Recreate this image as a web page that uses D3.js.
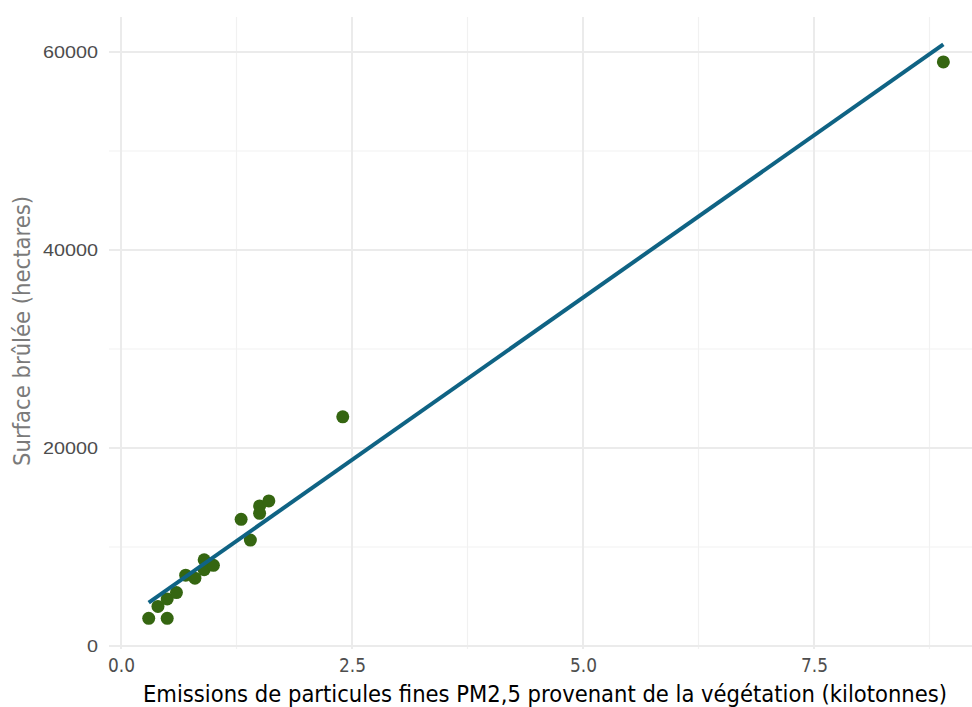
<!DOCTYPE html>
<html>
<head>
<meta charset="utf-8">
<script src="https://cdn.jsdelivr.net/npm/d3@7"></script>
<style>
  body { margin: 0; background: #fff; }
  svg { display: block; }
</style>
</head>
<body>
<svg id="chart" width="972" height="707"></svg>
<script>
// emissions PM2,5 (kilotonnes) vs surface brulee (hectares)
var emissions = [0.3, 0.5, 0.4, 0.5, 0.6, 0.7, 0.8, 0.9, 0.9, 1.0, 1.3, 1.4, 1.5, 1.5, 1.6, 2.4, 8.9];
var surface = [2800, 2800, 4000, 4750, 5400, 7150, 6850, 8700, 7700, 8150, 12800, 10700, 14150, 13400, 14650, 23150, 59000];
var xTicks = [0, 2.5, 5, 7.5];
var xMinor = [1.25, 3.75, 6.25, 8.75];
var yTicks = [0, 20000, 40000, 60000];
var yMinor = [10000, 30000, 50000];

var svg = d3.select('#chart');
var panel = { left: 109, right: 972, top: 17, bottom: 649 };

var xScale = d3.scaleLinear().domain([0, 7.5]).range([121, 814]);
var yScale = d3.scaleLinear().domain([0, 60000]).range([646, 52]);

var gridGroup = svg.append('g');
// minor grid first, then major on top
gridGroup.selectAll('.vminor').data(xMinor).enter().append('line')
  .attr('x1', function(d) { return xScale(d); })
  .attr('x2', function(d) { return xScale(d); })
  .attr('y1', panel.top).attr('y2', panel.bottom)
  .attr('stroke', '#f1f1f1').attr('stroke-width', 1.2);
gridGroup.selectAll('.hminor').data(yMinor).enter().append('line')
  .attr('y1', function(d) { return yScale(d); })
  .attr('y2', function(d) { return yScale(d); })
  .attr('x1', panel.left).attr('x2', panel.right)
  .attr('stroke', '#f1f1f1').attr('stroke-width', 1.2);
gridGroup.selectAll('.vmajor').data(xTicks).enter().append('line')
  .attr('x1', function(d) { return xScale(d); })
  .attr('x2', function(d) { return xScale(d); })
  .attr('y1', panel.top).attr('y2', panel.bottom)
  .attr('stroke', '#ebebeb').attr('stroke-width', 2);
gridGroup.selectAll('.hmajor').data(yTicks).enter().append('line')
  .attr('y1', function(d) { return yScale(d); })
  .attr('y2', function(d) { return yScale(d); })
  .attr('x1', panel.left).attr('x2', panel.right)
  .attr('stroke', '#ebebeb').attr('stroke-width', 2);

// axes (no domain line, no ticks, like theme_minimal)
var xAxis = d3.axisBottom(xScale).tickValues(xTicks).tickFormat(d3.format('.1f')).tickSize(0).tickPadding(0);
var yAxis = d3.axisLeft(yScale).tickValues(yTicks).tickFormat(d3.format('d')).tickSize(0).tickPadding(0);

var xAxisGroup = svg.append('g')
  .attr('transform', 'translate(0,' + 672 + ')')
  .call(xAxis);
xAxisGroup.select('.domain').remove();
xAxisGroup.selectAll('text')
  .attr('dy', 0)
  .attr('fill', '#4d4d4d')
  .style('font-family', 'DejaVu Sans Condensed, Roboto, sans-serif')
  .style('font-size', '20px')
  .attr('textLength', 27)
  .attr('lengthAdjust', 'spacingAndGlyphs');

var yAxisGroup = svg.append('g')
  .attr('transform', 'translate(' + 98 + ',0)')
  .call(yAxis);
yAxisGroup.select('.domain').remove();
yAxisGroup.selectAll('text')
  .attr('fill', '#4d4d4d')
  .attr('dy', '0.35em')
  .style('font-family', 'Liberation Sans, Arial, sans-serif')
  .style('font-size', '16px')
  .attr('textLength', function(d) { return String(d).length * 11; })
  .attr('lengthAdjust', 'spacingAndGlyphs');

// least squares fit
var mx = d3.mean(emissions), my = d3.mean(surface);
var sxy = 0, sxx = 0;
for (var i = 0; i < emissions.length; i++) {
  sxy += (emissions[i] - mx) * (surface[i] - my);
  sxx += (emissions[i] - mx) * (emissions[i] - mx);
}
var slope = sxy / sxx;
var intercept = my - slope * mx;
var xExtent = d3.extent(emissions);

var points = emissions.map(function(d, i) { return { x: d, y: surface[i] }; });

svg.append('g').selectAll('circle')
  .data(points)
  .enter().append('circle')
    .attr('cx', function(d) { return xScale(d.x); })
    .attr('cy', function(d) { return yScale(d.y); })
    .attr('r', 6.5)
    .attr('fill', '#356611');

var line = d3.line()
  .x(function(d) { return xScale(d); })
  .y(function(d) { return yScale(intercept + slope * d); });
svg.append('path')
  .datum(xExtent)
  .attr('d', line)
  .attr('fill', 'none')
  .attr('stroke', '#0f6384')
  .attr('stroke-width', 4);

// axis titles
svg.append('text')
  .attr('x', 545).attr('y', 702)
  .attr('text-anchor', 'middle')
  .attr('fill', '#000')
  .attr('textLength', 804)
  .attr('lengthAdjust', 'spacingAndGlyphs')
  .style('font-family', 'DejaVu Sans Condensed, Roboto, sans-serif')
  .style('font-size', '23px')
  .text('Emissions de particules fines PM2,5 provenant de la végétation (kilotonnes)');

svg.append('text')
  .attr('transform', 'translate(30,331) rotate(-90)')
  .attr('text-anchor', 'middle')
  .attr('fill', '#7a7a7a')
  .attr('textLength', 270)
  .attr('lengthAdjust', 'spacingAndGlyphs')
  .style('font-family', 'DejaVu Sans Condensed, Roboto, sans-serif')
  .style('font-size', '23px')
  .text('Surface brûlée (hectares)');
</script>
</body>
</html>
